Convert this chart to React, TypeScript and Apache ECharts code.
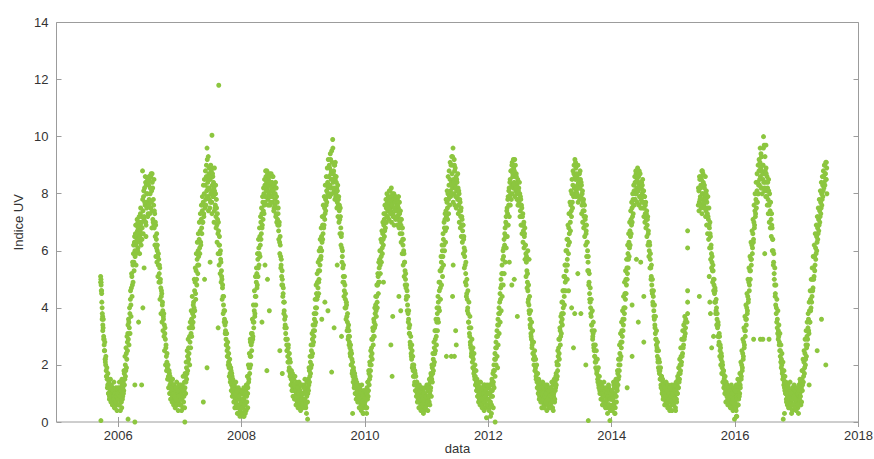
import React, { useEffect, useRef } from "react";
import * as echarts from "echarts";

// Daily UV index readings, one value every 3 days from each season's start day (two interleaved sets).
const years = [2005, 2006, 2007, 2008, 2009, 2010, 2011, 2012, 2013, 2014, 2015, 2016, 2017];
const startDaysA = [262, 1, 1, 1, 1, 1, 1, 1, 1, 1, 1, 1, 1];
const startDaysB = [263, 2, 2, 2, 2, 2, 2, 2, 2, 2, 2, 2, 2];
const stepDays = 3;

const uv2005 = [5.1,4.8,4.5,4.0,3.7,3.3,3.0,2.7,2.5,2.2,2.0,1.8,1.6,1.5,1.3,1.2,1.0,1.3,0.9,1.1,0.8,1.0,0.7,1.2,0.6,0.9,0.8,1.0,0.5,0.9,0.7,1.1,0.6,0.8,0.9];
const uv2006 = [0.8,1.1,0.6,0.9,1.2,0.7,1.0,0.5,1.3,0.9,1.4,1.1,1.7,1.5,2.0,1.8,2.4,2.2,2.8,3.1,2.9,3.5,3.3,3.8,4.3,4.1,4.7,5.1,4.8,5.5,5.9,5.6,6.3,6.0,6.6,6.2,6.9,6.4,6.7,6.1,6.8,6.5,7.0,6.3,6.9,6.6,7.2,6.4,8.8,7.4,7.9,7.1,8.2,7.6,8.4,6.9,8.0,7.7,8.5,7.3,8.3,7.8,8.6,8.0,7.5,8.7,8.1,7.4,8.2,7.0,7.6,6.8,7.3,6.5,6.9,6.2,6.6,6.0,5.8,5.5,5.7,5.2,5.4,4.9,4.7,4.4,4.5,4.1,3.9,3.7,3.8,3.4,3.1,2.9,2.6,2.3,2.1,1.9,1.8,1.6,1.5,1.7,1.3,1.2,1.4,1.0,1.2,0.9,1.1,1.3,0.8,1.0,0.7,1.1,0.9,0.6,1.2,0.8,1.0,0.7,0.9,1.1];
const uv2007 = [0.9,1.2,0.6,1.0,0.8,1.3,0.5,1.1,0.9,1.4,1.2,1.6,1.4,1.9,1.7,2.3,2.1,2.6,2.4,3.0,2.8,3.3,3.1,3.6,3.4,3.8,3.5,4.2,4.0,4.6,4.9,4.5,5.3,5.0,5.7,5.5,6.0,5.8,6.4,6.1,6.7,6.3,7.1,6.8,7.4,7.0,7.7,7.3,8.0,7.6,8.3,7.8,8.6,8.1,9.2,8.4,7.9,8.7,8.2,7.5,8.5,8.0,8.8,7.7,8.3,8.6,7.9,8.2,7.4,8.0,7.6,7.2,7.8,6.9,7.3,6.6,7.0,6.2,6.5,5.9,6.0,5.6,5.3,5.0,4.7,4.4,4.1,3.9,3.6,3.4,3.2,2.9,2.7,2.5,2.3,2.6,2.1,1.9,2.0,1.7,1.5,1.8,1.3,1.6,1.2,1.0,1.4,0.9,1.1,0.8,1.2,0.7,1.0,0.5,0.9,0.3,1.1,0.6,0.8,0.4,1.0,0.7];
const uv2008 = [0.7,0.3,1.0,0.5,0.8,0.2,0.9,0.6,1.1,0.4,0.9,1.3,1.0,1.6,1.4,1.9,1.7,2.3,2.0,2.7,2.5,3.1,2.9,3.5,3.3,3.9,3.7,4.4,4.1,4.9,5.2,4.8,5.7,5.4,6.1,5.9,6.5,6.2,7.0,6.6,7.3,6.9,7.7,7.4,8.0,7.6,8.3,7.9,8.6,8.1,8.8,8.2,7.8,8.5,8.0,8.7,7.6,8.3,8.1,7.9,8.4,7.7,8.6,8.0,7.5,8.2,7.8,8.4,7.3,7.9,7.5,7.1,7.3,6.7,6.9,6.3,6.5,5.8,5.5,5.1,5.3,4.8,4.5,4.2,3.9,3.6,3.4,3.1,2.9,2.7,2.5,2.3,2.6,2.1,1.9,2.2,1.7,1.8,1.5,1.6,1.4,1.2,1.5,1.1,1.3,0.9,1.2,0.8,1.0,1.3,0.7,1.1,0.9,0.6,1.2,0.8,1.0,0.5,0.9,1.3,0.7,1.0];
const uv2009 = [1.0,0.7,1.3,0.8,1.1,0.5,1.2,0.9,1.4,1.0,1.5,1.3,1.8,1.6,2.1,1.9,2.5,2.3,2.9,2.7,3.2,3.0,3.6,3.4,4.0,3.8,4.5,4.3,4.9,4.7,5.3,5.0,5.7,5.5,6.1,5.8,6.5,6.3,6.9,6.6,7.2,6.9,7.5,7.3,7.8,7.6,8.1,7.9,8.4,8.2,8.6,8.0,8.9,8.3,9.2,8.5,9.5,8.7,9.9,8.4,8.8,8.1,9.0,8.5,7.9,8.6,8.2,7.7,8.3,7.6,7.9,7.4,7.1,7.5,6.8,6.5,6.1,5.8,5.4,5.1,4.9,4.6,4.8,4.3,4.0,4.2,3.7,3.5,3.3,3.0,3.2,2.8,2.6,2.3,2.5,2.0,2.2,1.8,1.6,1.9,1.5,1.3,1.6,1.2,1.4,1.0,1.3,0.9,1.1,0.8,1.2,0.7,1.0,0.9,0.6,1.1,0.8,0.5,1.0,0.7,0.9,0.6];
const uv2010 = [0.7,1.0,0.5,0.9,1.2,0.8,1.4,1.1,1.7,1.5,2.0,1.8,2.3,2.6,2.4,2.9,3.2,3.0,3.5,3.3,3.8,4.1,3.9,4.4,4.2,4.8,5.1,4.9,5.4,5.7,5.5,6.0,5.8,6.3,6.1,6.6,6.4,6.9,7.1,6.7,7.3,7.0,7.5,7.2,7.7,7.4,7.9,7.6,8.1,7.5,7.8,7.4,8.2,7.6,7.9,7.3,7.7,8.0,7.5,7.8,7.4,7.9,7.2,7.6,7.8,7.1,7.5,7.3,7.7,7.0,7.4,6.9,7.1,6.6,6.8,6.2,6.4,5.9,5.6,5.3,5.0,4.7,4.4,4.6,4.1,3.8,3.6,3.3,3.1,2.8,2.6,2.4,2.2,2.5,2.0,1.8,1.9,1.6,1.4,1.7,1.3,1.1,1.4,1.0,1.2,0.8,1.1,0.7,0.9,1.2,0.6,1.0,0.8,0.5,1.1,0.7,0.9,0.4,1.0,0.6,0.8,0.7];
const uv2011 = [0.9,0.6,1.1,0.8,1.3,0.7,1.0,1.4,1.2,1.6,1.5,1.9,1.7,2.2,2.0,2.6,2.4,2.9,3.2,3.0,3.5,3.8,3.6,4.2,4.0,4.6,4.9,4.7,5.3,5.6,5.4,6.0,5.8,6.4,6.2,6.8,7.1,6.7,7.4,7.2,7.7,7.5,8.0,7.8,8.3,7.9,8.5,8.1,9.0,8.4,8.7,8.2,9.6,8.5,8.0,8.8,8.3,7.9,8.6,8.1,8.4,7.8,8.2,7.6,8.0,7.4,7.7,7.2,7.5,6.9,7.1,6.7,6.9,6.4,6.1,5.8,5.5,5.2,4.8,4.5,4.3,4.0,3.8,3.5,3.3,3.0,2.8,2.6,2.3,2.5,2.1,1.9,2.2,1.7,1.8,1.5,1.6,1.3,1.4,1.1,1.2,0.9,1.3,1.0,0.8,1.1,0.7,1.2,0.9,1.0,0.6,1.1,0.8,1.3,0.7,1.0,0.5,0.9,1.2,0.8,1.0,0.6];
const uv2012 = [0.8,1.2,0.5,1.0,0.7,1.3,0.9,1.5,1.1,1.7,1.4,2.0,1.8,2.4,2.2,2.8,2.6,3.2,3.0,3.6,3.4,4.0,3.8,4.5,4.3,5.0,4.8,5.5,5.2,6.0,5.8,6.4,6.2,6.8,6.5,7.2,6.9,7.5,7.3,7.9,7.6,8.2,7.9,8.5,8.0,8.8,8.3,9.1,8.6,8.2,8.9,8.4,9.2,8.6,8.1,8.7,8.3,8.0,8.5,7.8,8.2,7.6,8.0,7.4,7.8,7.2,7.5,6.9,7.3,6.7,7.0,6.5,6.8,6.2,5.9,5.6,5.3,4.9,4.6,4.3,4.1,3.8,3.6,3.3,3.1,2.9,2.6,2.8,2.4,2.2,2.0,2.3,1.8,1.9,1.6,1.7,1.4,1.5,1.2,1.3,1.1,0.9,1.2,1.0,0.8,1.1,0.7,1.3,0.9,1.0,0.6,1.1,0.8,1.2,0.7,0.9,1.3,0.6,1.0,0.8,1.1,0.7];
const uv2013 = [0.9,0.6,1.2,0.8,1.0,0.5,1.3,0.9,1.1,0.7,1.4,1.2,1.7,1.5,2.0,1.8,2.3,2.6,2.4,2.9,3.2,3.0,3.5,3.8,3.6,4.2,4.0,4.6,4.4,5.1,4.9,5.5,5.3,6.0,5.7,6.4,6.2,6.8,6.6,7.3,7.0,7.6,7.4,8.0,7.7,8.3,8.0,8.7,8.2,9.2,8.5,8.9,8.1,8.6,8.3,9.0,8.4,7.9,8.7,8.2,8.5,7.9,8.3,7.6,8.1,7.4,7.8,7.2,7.6,6.9,7.2,6.6,6.9,6.3,6.0,5.6,5.3,4.9,4.5,4.2,4.0,3.7,3.4,3.2,2.9,3.1,2.7,2.5,2.3,2.1,1.9,2.2,1.7,1.8,1.5,1.6,1.3,1.4,1.1,1.2,1.0,1.3,0.8,1.1,0.9,1.2,0.7,1.0,0.6,0.9,1.1,0.7,0.9,0.5,1.0,0.8,1.2,0.6,0.9,0.4,1.0,0.8];
const uv2014 = [0.8,1.1,0.6,0.9,1.3,0.7,1.0,0.5,1.2,0.9,1.4,1.1,1.7,1.5,2.0,1.8,2.4,2.2,2.8,2.6,3.2,3.0,3.6,3.4,4.0,3.8,4.5,4.3,5.0,4.8,5.4,5.2,5.9,5.7,6.3,6.1,6.7,6.5,7.1,6.9,7.5,7.2,7.8,7.6,8.1,7.8,8.4,8.0,8.7,8.2,8.5,8.9,8.1,8.6,8.3,7.9,8.7,8.2,7.8,8.4,8.0,8.5,7.7,8.1,7.5,7.9,7.3,7.7,7.1,7.4,6.9,7.2,6.6,6.3,6.0,6.2,5.7,5.4,5.1,4.8,4.5,4.2,4.4,3.9,3.6,3.4,3.1,2.9,2.7,2.5,2.3,2.1,1.9,2.2,1.7,1.8,1.5,1.3,1.6,1.2,1.1,1.4,0.9,1.2,0.8,1.0,1.3,0.7,1.1,0.9,0.6,1.0,0.8,1.2,0.5,0.9,1.1,0.7,1.0,0.4,0.8,1.2];
const uv2015 = [1.0,0.7,1.2,0.9,0.5,1.1,0.8,1.3,1.0,1.5,1.2,1.7,1.5,2.0,1.8,2.3,2.1,2.6,2.4,2.9,2.7,3.2,3.0,3.5,3.3,null,null,null,null,null,null,null,null,null,null,null,null,null,null,null,null,null,null,null,null,null,null,null,null,7.6,8.1,7.7,8.5,7.9,8.3,7.5,8.8,8.0,7.8,8.4,7.6,8.2,7.9,8.6,7.4,8.1,7.7,7.3,7.9,7.1,7.5,6.8,7.0,6.5,6.1,5.9,5.6,5.3,5.5,5.0,4.8,4.5,4.7,4.2,3.9,4.0,3.6,3.3,3.5,3.0,2.8,3.0,2.5,2.6,2.2,2.3,1.9,2.0,1.7,1.8,1.5,1.3,1.6,1.1,1.4,1.0,1.2,0.8,1.1,0.9,0.7,1.0,1.2,0.6,0.9,1.1,0.5,0.8,1.0,0.7,0.9,1.1];
const uv2016 = [0.7,1.0,0.4,0.9,1.2,0.6,1.1,0.8,1.4,1.0,1.3,1.7,1.5,2.0,1.8,2.4,2.2,2.8,2.6,3.2,3.0,3.6,3.4,4.0,3.8,4.4,4.2,4.9,4.6,5.3,5.0,5.7,5.5,6.2,5.9,6.6,6.3,7.0,6.8,7.4,7.2,7.8,7.5,8.1,7.7,8.4,8.0,8.8,8.3,9.1,8.6,9.4,8.8,8.2,9.0,8.5,10.0,8.7,8.1,9.3,8.4,8.9,7.9,8.6,8.2,7.8,8.5,7.6,8.0,7.4,7.7,7.1,7.3,6.8,6.4,6.0,5.6,5.2,4.8,4.4,4.1,3.8,3.5,3.3,3.1,2.9,3.0,2.7,2.5,2.3,2.1,1.9,2.0,1.7,1.5,1.6,1.3,1.4,1.1,1.2,1.0,0.8,1.1,0.6,0.9,1.2,0.7,1.0,0.5,0.9,1.1,0.7,0.9,0.4,1.0,0.6,0.8,1.2,0.5,0.9,0.7,1.0];
const uv2017 = [0.8,1.1,0.5,0.9,1.3,0.7,1.0,1.4,0.6,1.2,1.5,1.1,1.8,1.4,2.1,1.7,2.4,2.0,2.7,2.3,3.0,2.7,3.3,3.6,3.1,3.9,3.5,4.3,4.0,4.6,4.4,5.0,4.7,5.4,5.1,5.8,5.5,6.1,5.9,6.5,6.3,6.8,6.6,7.1,6.9,7.4,7.2,7.7,7.5,8.0,7.8,8.3,8.1,8.6,8.4,9.0,8.7,9.1,8.5,8.9];

const uvB2005 = [4.9,4.6,4.2,3.8,3.4,3.6,2.9,2.5,2.8,2.1,2.3,1.6,1.9,1.2,1.7,1.0,1.4,0.8,1.2,1.5,0.7,1.3,0.9,0.6,1.1,0.8,1.4,0.5,1.0,0.7,1.2,0.9,0.4,1.0,0.8];
const uvB2006 = [1.2,0.6,1.4,0.9,0.4,1.1,0.7,1.5,0.8,1.2,1.0,1.8,1.3,2.3,1.6,2.6,1.9,3.0,2.5,3.4,3.6,2.7,4.0,3.1,4.6,3.7,5.2,4.4,5.6,4.9,6.2,5.3,6.5,5.8,6.9,5.9,6.3,7.1,6.0,6.8,6.4,7.2,5.9,6.7,7.5,6.2,7.0,6.8,7.8,6.6,8.1,7.2,7.7,8.6,7.0,8.3,7.5,8.0,7.2,8.4,7.6,8.5,7.3,8.2,8.6,7.7,6.8,8.4,7.1,7.8,6.9,7.4,6.2,7.0,5.8,6.4,5.6,6.2,5.1,5.9,4.9,5.5,4.3,5.0,3.8,4.6,3.5,4.2,3.2,3.6,3.0,2.5,3.3,2.0,2.7,1.8,2.4,1.5,2.0,1.2,1.8,1.0,1.6,0.8,1.4,1.1,0.7,1.5,1.0,0.6,1.3,0.9,0.5,1.2,0.8,1.4,0.6,1.1,0.4,0.9,1.3];
const uvB2007 = [0.6,1.3,0.8,0.4,1.2,0.9,1.6,0.7,1.1,0.5,1.7,1.0,2.1,1.5,2.5,1.8,2.9,2.2,3.3,2.0,3.5,2.6,3.9,3.0,4.4,3.3,4.1,3.7,5.0,3.9,5.4,4.3,5.9,4.8,6.3,5.2,6.6,5.5,7.0,5.9,7.3,6.2,7.6,6.6,7.9,7.0,8.3,7.2,8.5,7.5,8.8,7.6,9.0,7.9,8.5,8.2,7.4,8.9,7.8,8.6,7.7,8.9,8.1,7.3,8.7,7.9,8.4,7.0,8.1,7.5,8.0,6.8,7.5,6.3,7.1,5.9,6.7,5.5,6.2,5.2,5.7,4.9,5.1,4.3,4.8,3.8,4.4,3.5,3.9,3.1,3.5,2.7,3.1,2.3,2.8,2.0,2.4,1.6,2.2,1.4,1.9,1.1,1.7,0.9,1.5,1.2,0.7,1.3,0.5,1.0,1.4,0.6,1.1,0.3,0.8,1.2,0.5,0.9,0.2,1.1,0.6];
const uvB2008 = [1.1,0.5,0.8,0.3,1.2,0.6,0.4,1.0,0.7,1.3,0.7,1.6,1.2,2.0,1.5,2.4,1.9,2.8,2.3,3.1,2.8,3.6,3.0,4.1,3.5,4.6,3.8,5.1,4.4,5.4,4.7,5.9,5.1,6.4,5.5,6.8,5.8,7.2,6.4,7.5,6.8,7.9,7.1,8.2,7.3,8.5,7.7,8.8,7.9,8.4,8.1,8.7,7.6,8.3,8.6,7.9,8.4,7.7,8.7,8.2,7.9,8.6,8.1,7.4,8.3,7.6,8.0,7.2,8.2,7.0,7.7,6.9,7.5,6.4,7.0,5.9,6.2,5.4,5.7,4.8,5.0,4.4,4.7,3.8,4.2,3.3,3.7,2.9,3.3,2.5,2.9,2.1,2.7,1.8,2.4,1.6,2.1,1.3,1.8,1.1,1.7,0.9,1.5,1.3,0.8,1.6,1.1,0.6,1.4,0.9,1.2,0.5,1.0,1.4,0.7,1.1,0.4,1.3,0.8,1.0,0.6];
const uvB2009 = [0.5,1.2,0.8,1.5,0.6,1.0,0.3,1.4,0.7,1.2,1.1,1.9,1.4,2.3,1.7,2.7,2.0,3.1,2.4,3.4,2.8,3.8,3.2,4.3,3.5,4.8,4.0,5.2,4.4,5.6,4.9,6.0,5.3,6.4,5.7,6.8,6.0,7.2,6.4,7.6,6.8,7.9,7.1,8.3,7.4,8.6,7.7,8.9,8.0,9.2,8.3,9.0,7.9,9.4,8.2,8.8,8.0,9.1,8.5,8.7,8.2,9.0,7.8,8.6,8.0,8.4,7.5,8.1,7.2,7.8,7.0,7.6,6.6,7.2,6.2,6.6,5.6,6.0,4.9,5.5,4.4,5.1,4.0,4.5,3.6,4.1,3.2,3.8,2.9,3.4,2.7,3.0,2.4,2.7,2.0,2.4,1.7,2.1,1.4,1.8,1.2,1.7,1.0,1.5,0.8,1.4,1.1,0.7,1.3,0.9,0.5,1.2,0.8,1.0,0.4,1.3,0.7,0.9,0.3,1.1,0.8];
const uvB2010 = [1.1,0.5,0.8,0.3,1.0,1.4,0.9,1.8,1.3,2.1,1.6,2.5,2.0,2.9,2.2,3.3,2.7,3.6,3.0,4.0,3.4,4.4,3.7,4.8,4.0,5.2,4.5,5.6,4.9,6.0,5.2,6.4,5.6,6.7,5.9,7.0,6.2,7.3,6.5,7.6,6.8,7.8,7.0,8.0,7.2,7.5,7.9,7.1,7.7,8.1,7.3,7.9,7.0,7.6,8.0,7.2,7.8,6.9,7.5,7.7,7.1,7.8,7.4,6.9,7.6,7.2,7.9,6.8,7.3,6.6,7.1,6.3,6.8,5.9,6.4,5.5,6.0,5.1,5.6,4.8,5.2,4.3,4.8,3.9,4.4,3.5,3.9,3.1,3.4,2.7,3.0,2.3,2.7,1.9,2.3,1.6,2.0,1.3,1.8,1.1,1.6,0.9,1.4,0.7,1.2,1.0,0.5,1.3,0.8,1.1,0.4,0.9,1.2,0.6,0.8,0.3,1.0,0.7,1.2,0.5,0.9];
const uvB2011 = [1.3,0.7,0.4,1.2,0.9,1.5,0.6,1.1,1.7,0.9,2.0,1.4,2.4,1.8,2.8,2.1,3.2,2.5,3.6,2.7,4.0,3.2,4.4,3.5,4.9,3.9,5.3,4.3,5.8,4.8,6.2,5.1,6.6,5.5,7.0,6.0,7.3,6.3,7.8,6.8,8.1,7.1,8.6,7.3,8.8,7.6,9.1,7.9,8.3,9.3,8.0,9.0,7.7,8.4,9.2,7.6,8.9,8.2,7.5,8.5,7.9,8.7,7.3,8.1,7.0,7.8,6.8,7.4,6.5,7.2,6.3,6.9,5.9,6.5,5.4,6.0,4.9,5.6,4.4,5.0,3.9,4.6,3.5,4.2,3.1,3.7,2.7,3.3,2.4,2.9,2.3,2.6,1.9,2.4,1.6,2.0,1.3,1.8,1.1,1.5,0.9,1.4,0.7,1.2,1.0,0.6,1.4,0.8,1.1,0.5,1.2,0.8,1.0,0.4,1.3,0.7,0.9,1.1,0.6,1.3,0.8];
const uvB2012 = [1.0,0.4,1.3,0.7,0.2,1.1,0.6,1.4,0.9,1.3,1.8,1.2,2.2,1.6,2.6,2.0,3.0,2.3,3.4,2.7,3.8,3.1,4.2,3.5,4.7,3.9,5.2,4.4,5.7,4.8,6.1,5.2,6.6,5.6,7.0,6.1,7.4,6.5,7.8,6.9,8.1,7.2,8.4,7.6,8.8,7.8,9.0,8.0,8.7,9.2,8.3,8.8,7.9,9.0,8.2,8.6,7.8,8.4,7.6,8.1,7.7,8.4,7.2,7.9,6.9,7.6,6.6,7.2,6.3,6.9,6.1,6.6,5.7,6.2,5.1,5.8,4.7,5.2,4.2,4.8,3.9,4.4,3.4,3.9,3.0,3.5,2.7,3.2,2.4,2.8,2.2,2.5,1.8,2.2,1.5,2.0,1.2,1.7,1.0,1.5,0.8,1.4,1.1,0.7,1.2,0.5,1.0,1.4,0.8,1.2,0.5,0.9,1.3,0.7,1.0,0.4,1.2,0.8,1.1,0.5,0.9];
const uvB2013 = [1.2,0.5,0.9,1.4,0.7,1.1,0.4,1.0,1.5,0.8,1.1,1.6,1.3,2.1,1.6,2.5,2.0,2.9,2.2,3.3,2.7,3.7,3.1,4.2,3.4,4.6,3.8,5.1,4.1,5.5,4.6,6.0,5.0,6.4,5.5,6.9,5.9,7.3,6.3,7.7,6.7,8.1,7.2,8.5,7.5,8.8,7.9,9.0,8.2,8.6,9.1,7.9,8.7,8.0,9.0,7.7,8.5,8.2,7.8,8.8,7.9,8.4,7.3,8.0,7.0,7.7,6.8,7.4,6.5,7.1,6.2,6.7,5.8,6.3,5.3,5.8,4.8,5.2,4.3,4.7,3.8,4.3,3.4,3.9,3.0,3.5,2.6,3.2,2.3,2.7,2.1,2.5,1.8,2.2,1.4,1.9,1.2,1.6,1.0,1.4,0.8,1.3,1.0,0.6,1.2,0.9,1.4,0.7,1.1,0.5,1.2,0.8,1.0,0.3,0.9,1.3,0.6,1.1,0.8,0.5,1.0];
const uvB2014 = [1.1,0.4,0.8,1.4,0.6,1.2,0.3,0.9,1.5,0.7,1.2,1.8,1.3,2.2,1.6,2.7,2.0,3.1,2.3,3.5,2.8,3.9,3.2,4.4,3.6,4.9,4.0,5.3,4.5,5.7,5.0,6.2,5.4,6.6,5.8,7.0,6.2,7.4,6.6,7.7,7.0,8.0,7.3,8.3,7.6,8.6,7.8,8.8,8.0,8.4,7.7,8.6,8.1,7.6,8.8,7.9,8.4,7.5,8.2,7.7,8.3,7.5,8.1,7.2,7.9,7.0,7.6,6.8,7.3,6.5,7.1,6.2,6.7,5.8,6.3,5.4,5.9,5.0,5.5,4.6,5.0,4.1,4.6,3.7,4.1,3.3,3.7,2.9,3.2,2.6,2.8,2.2,2.5,1.8,2.1,1.5,1.9,1.2,1.6,1.0,1.5,0.8,1.3,1.0,0.6,1.2,0.9,1.4,0.7,1.1,0.5,1.3,0.8,1.0,0.4,1.2,0.7,0.9,1.3,0.6,1.0];
const uvB2015 = [0.6,1.3,0.8,1.1,0.4,1.4,0.7,1.0,1.6,1.2,1.9,1.4,2.2,1.7,2.6,2.0,2.9,2.3,3.2,2.6,3.4,2.9,3.7,3.1,3.6,null,null,null,null,null,null,null,null,null,null,null,null,null,null,null,null,null,null,null,null,null,null,null,null,8.2,7.4,8.6,7.8,8.2,7.6,8.5,7.3,8.0,8.7,7.7,8.3,7.5,8.0,7.2,7.8,6.9,7.5,6.6,7.2,6.4,6.9,6.1,6.6,5.7,6.2,5.4,5.8,4.9,5.3,4.6,5.0,4.2,4.6,3.8,4.3,3.4,3.8,3.0,3.4,2.7,3.1,2.3,2.7,2.0,2.4,1.7,2.1,1.4,1.8,1.2,1.6,1.0,1.4,0.7,1.2,0.9,1.3,0.6,1.0,1.2,0.8,1.1,0.5,0.9,1.3,0.7,1.0,0.4,0.8,1.2,0.6];
const uvB2016 = [1.1,0.5,1.3,0.2,0.8,1.5,0.6,1.2,0.9,1.7,1.2,2.1,1.6,2.5,1.9,2.9,2.3,3.3,2.7,3.7,3.2,4.1,3.6,4.5,3.9,5.0,4.3,5.4,4.8,5.8,5.3,6.3,5.7,6.7,6.1,7.1,6.4,7.6,6.9,8.0,7.3,8.4,7.7,8.7,8.0,9.0,8.3,9.2,8.5,9.6,8.9,8.2,9.3,8.0,8.7,9.0,8.4,9.7,8.2,8.8,7.9,8.7,8.1,7.6,8.4,7.3,8.1,7.0,7.7,6.8,7.3,6.5,6.9,6.0,6.4,5.5,5.9,5.0,5.4,4.5,4.8,4.0,4.3,3.6,3.9,3.2,3.4,2.8,3.1,2.5,2.7,2.2,2.4,1.8,2.1,1.5,1.8,1.2,1.6,1.0,1.4,0.7,1.2,0.9,1.3,0.5,1.0,0.8,1.4,0.6,1.0,0.3,0.8,1.2,0.6,0.9,1.3,0.5,1.1,0.8,0.4];
const uvB2017 = [1.2,0.6,1.0,0.3,1.1,0.8,1.5,0.9,1.3,0.7,1.8,1.3,2.2,1.6,2.5,1.9,2.9,2.2,3.2,2.6,3.5,2.9,3.8,3.2,4.2,3.5,4.6,3.9,5.0,4.2,5.4,4.6,5.8,5.0,6.2,5.3,6.6,5.7,6.9,6.0,7.2,6.4,7.5,6.7,7.8,7.0,8.1,7.3,8.4,7.6,8.6,7.9,8.8,8.2,9.0,8.3,8.7,8.5,9.1,8.0];

// Isolated readings (cloudy days, extremes) as [decimal year, UV index]
const extraPoints = [
  [2005.72,5.0],[2005.72,4.9],[2005.73,4.6],[2005.74,3.6],[2005.75,3.2],[2005.77,2.9],[2005.79,2.2],[2005.72,0.05],[2005.86,0.9],
  [2006.16,0.1],[2006.27,0.0],[2006.27,1.3],[2006.33,3.5],[2006.38,1.3],[2006.30,6.6],[2006.32,7.0],[2006.35,6.5],[2006.36,7.3],[2006.42,5.4],[2006.45,6.5],[2006.50,8.6],[2006.55,8.7],[2006.58,8.5],[2006.62,6.1],[2006.40,4.0],[2006.29,5.5],
  [2007.44,9.6],[2007.46,9.3],[2007.52,10.05],[2007.63,11.8],[2007.50,9.0],[2007.56,8.9],[2007.47,8.6],[2007.58,8.3],[2007.40,5.0],[2007.62,3.3],[2007.38,0.7],[2007.08,0.0],[2007.44,1.9],[2007.49,5.6],
  [2008.03,0.2],[2008.06,0.3],[2008.10,0.5],[2008.14,2.9],[2008.33,3.5],[2008.38,5.5],[2008.42,5.0],[2008.45,3.9],[2008.41,1.8],[2008.62,2.5],[2008.66,1.7],
  [2009.48,9.6],[2009.52,9.1],[2009.45,8.7],[2009.35,4.2],[2009.30,3.6],[2009.40,3.9],[2009.55,5.5],[2009.62,3.0],[2009.07,0.1],[2009.46,1.75],[2009.80,0.3],[2009.25,4.5],[2009.50,3.3],
  [2010.44,1.6],[2010.45,3.7],[2010.58,3.9],[2010.42,2.7],[2010.55,4.4],[2010.30,4.9],[2009.97,0.3],[2010.03,0.5],
  [2011.42,4.4],[2011.32,2.3],[2011.40,2.3],[2011.45,2.3],[2011.47,3.2],[2011.48,2.7],[2011.43,5.5],[2011.42,9.3],[2011.45,9.0],
  [2011.97,0.15],[2012.11,0.0],[2012.05,0.3],[2012.08,0.5],[2012.15,1.9],[2012.34,5.6],[2012.38,4.8],[2012.42,5.0],[2012.47,3.7],[2012.64,6.0],[2012.66,5.7],
  [2013.30,4.6],[2013.35,4.0],[2013.40,3.8],[2013.38,2.6],[2013.50,3.8],[2013.58,2.0],[2013.62,0.05],[2013.28,5.0],[2013.45,5.2],
  [2014.33,2.3],[2014.52,2.8],[2014.43,3.5],[2014.33,4.1],[2014.52,4.4],[2014.47,5.6],[2014.40,5.7],[2014.25,1.2],[2013.97,0.05],[2014.05,0.3],
  [2015.23,6.7],[2015.23,6.1],[2015.23,4.6],[2015.23,4.2],[2015.23,3.8],[2015.22,3.5],[2015.42,4.4],[2015.58,5.1],[2015.59,4.2],[2015.60,3.8],[2015.62,2.6],[2015.65,3.0],[2015.45,8.6],[2015.47,8.8],[2015.50,8.3],[2015.53,8.0],
  [2016.41,2.9],[2016.45,2.9],[2016.55,2.9],[2016.48,5.9],[2016.46,9.6],[2016.50,9.7],[2016.43,9.3],[2016.78,0.1],[2015.99,0.1],[2016.02,0.2],[2016.30,2.9],
  [2017.47,2.0],[2017.33,2.5],[2017.40,3.6],[2017.20,1.3],[2016.80,0.3]
];

const xTickValues = [2006, 2008, 2010, 2012, 2014, 2016, 2018];
const seasonsA = [uv2005, uv2006, uv2007, uv2008, uv2009, uv2010, uv2011, uv2012, uv2013, uv2014, uv2015, uv2016, uv2017];
const seasonsB = [uvB2005, uvB2006, uvB2007, uvB2008, uvB2009, uvB2010, uvB2011, uvB2012, uvB2013, uvB2014, uvB2015, uvB2016, uvB2017];

function buildPoints(): number[][] {
  const pts: number[][] = [];
  const add = (seasons: (number | null)[][], starts: number[]) => {
    seasons.forEach((arr, k) => {
      arr.forEach((v, i) => {
        if (v === null || v === undefined) return;
        const day = starts[k] - 1 + stepDays * i;
        pts.push([years[k] + day / 365, v as number]);
      });
    });
  };
  add(seasonsA, startDaysA);
  add(seasonsB, startDaysB);
  extraPoints.forEach((p) => pts.push([p[0], p[1]]));
  return pts;
}

export default function App() {
  const ref = useRef<HTMLDivElement>(null);
  useEffect(() => {
    document.body.style.margin = "0";
    if (!ref.current) return;
    const chart = echarts.init(ref.current, null, { renderer: "svg" });
    const frame = "#9c9c9c";
    const font = "Liberation Sans, Arial, Helvetica, sans-serif";
    const tick = { show: true, inside: true, length: 5, lineStyle: { color: frame, width: 1 } };
    chart.setOption({
      animation: false,
      backgroundColor: "#ffffff",
      grid: {
        left: 56.5, right: 15.5, top: 22.5, bottom: 37,
        containLabel: false, outerBoundsMode: "none",
        show: true, borderColor: frame, borderWidth: 1, backgroundColor: "transparent",
      },
      xAxis: [
        {
          type: "value", min: 2005, max: 2018, splitNumber: 6, position: "bottom",
          name: "data", nameLocation: "middle", nameGap: 20, nameMoveOverlap: false,
          nameTextStyle: { fontFamily: font, fontSize: 13, color: "#333", lineHeight: 13 },
          axisLine: { show: false }, splitLine: { show: false },
          axisTick: { ...tick, customValues: xTickValues },
          axisLabel: { customValues: xTickValues, fontFamily: font, fontSize: 13, color: "#333", margin: 7, formatter: (v: number) => String(v) },
        },
        {
          type: "value", min: 2005, max: 2018, splitNumber: 6, position: "top",
          axisLine: { show: false }, splitLine: { show: false },
          axisTick: { ...tick, customValues: xTickValues },
          axisLabel: { show: false },
        },
      ],
      yAxis: [
        {
          type: "value", min: 0, max: 14, interval: 2, position: "left",
          name: "Indice UV", nameLocation: "middle", nameGap: 32, nameRotate: 90, nameMoveOverlap: false,
          nameTextStyle: { fontFamily: font, fontSize: 13, color: "#333" },
          axisLine: { show: false }, splitLine: { show: false },
          axisTick: tick,
          axisLabel: { fontFamily: font, fontSize: 13, color: "#333", margin: 8 },
        },
        {
          type: "value", min: 0, max: 14, interval: 2, position: "right",
          axisLine: { show: false }, splitLine: { show: false },
          axisTick: tick,
          axisLabel: { show: false },
        },
      ],
      series: [
        {
          type: "scatter",
          xAxisIndex: 0,
          yAxisIndex: 0,
          symbol: "circle",
          symbolSize: 5,
          itemStyle: { color: "#8cc63f", opacity: 1 },
          data: buildPoints(),
        },
      ],
    });
    return () => chart.dispose();
  }, []);
  return <div ref={ref} style={{ width: 874, height: 459 }} />;
}
